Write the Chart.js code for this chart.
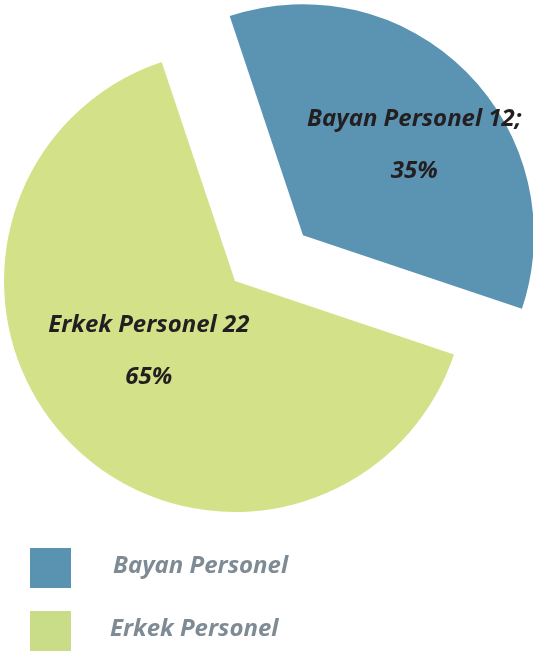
<!DOCTYPE html>
<html>
<head>
<meta charset="utf-8">
<script src="https://cdn.jsdelivr.net/npm/chart.js@4.4.1/dist/chart.umd.min.js"></script>
<style>
  html,body{margin:0;padding:0;background:#fff;}
  #wrap{position:relative;width:533px;height:656px;overflow:hidden;}
  #legend{position:absolute;left:30px;top:548px;}
  .lg-row{position:relative;height:63px;}
  .lg-box{position:absolute;left:0;top:0;width:41px;height:40px;}
  .lg-txt{position:absolute;top:-1px;font:italic bold 24px "Open Sans",sans-serif;color:#7F8B94;white-space:nowrap;}
</style>
</head>
<body>
<div id="wrap">
  <canvas id="pie" width="533" height="656"></canvas>
  <div id="legend"></div>
</div>
<script>
// Personel dağılımı — pasta grafiği, bayan dilimi dışarı çekilmiş.

const LABELS=['Bayan Personel','Erkek Personel'];
const VALUES=[12,22];
const PCTS=['35%','65%'];
const COLORS=['#5B93B3','#D3E289'];
const LEGEND_COLORS=['#5A93B2','#C9DD88'];
const LEGEND_X=[83,80];

// dışarı çekme: mesafe (px) ve yön (saat 12'den saat yönünde derece)
const EXPLODE_DIST=[82,0];
const EXPLODE_DIR=56;
const LABEL_R=[0.62,0.48];
const LABEL_SHIFT=6; // etiketler dilim ortasından biraz saat yönüne kayık

const explode={
  id:'explode',
  afterDatasetUpdate(chart,args){
    const a=(EXPLODE_DIR-90)*Math.PI/180;
    args.meta.data.forEach((arc,i)=>{
      arc.x+=Math.cos(a)*EXPLODE_DIST[i];
      arc.y+=Math.sin(a)*EXPLODE_DIST[i];
    });
  }
};

// slice içine "isim değer;" + yüzde yazar
const sliceLabels={
  id:'sliceLabels',
  afterDatasetsDraw(chart){
    const ctx=chart.ctx;
    chart.getDatasetMeta(0).data.forEach((arc,i)=>{
      const half=(arc.startAngle+arc.endAngle)/2+LABEL_SHIFT*Math.PI/180;
      const d=arc.outerRadius*LABEL_R[i];
      const cx=arc.x+Math.cos(half)*d, cy=arc.y+Math.sin(half)*d;
      ctx.save();
      ctx.fillStyle='#231F20';
      ctx.textAlign='center';
      ctx.textBaseline='middle';
      ctx.font='italic bold 24px "Open Sans", sans-serif';
      ctx.fillText(LABELS[i]+' '+VALUES[i]+(i===0?';':''),cx,cy-26);
      ctx.fillText(PCTS[i],cx,cy+26);
      ctx.restore();
    });
  }
};

new Chart(document.getElementById('pie'),{
  type:'pie',
  data:{labels:LABELS,datasets:[{data:VALUES,backgroundColor:COLORS,borderWidth:0}]},
  options:{
    responsive:false,animation:false,
    rotation:-18.5,radius:231,clip:false,
    layout:{padding:{left:0,right:63,top:0,bottom:94}},
    plugins:{legend:{display:false},tooltip:{enabled:false}}
  },
  plugins:[explode,sliceLabels]
});

document.getElementById('legend').innerHTML=LABELS.map((l,i)=>
  '<div class="lg-row"><div class="lg-box" style="background:'+LEGEND_COLORS[i]+'"></div>'
  +'<div class="lg-txt" style="left:'+LEGEND_X[i]+'px">'+l+'</div></div>').join('');
</script>
</body>
</html>
